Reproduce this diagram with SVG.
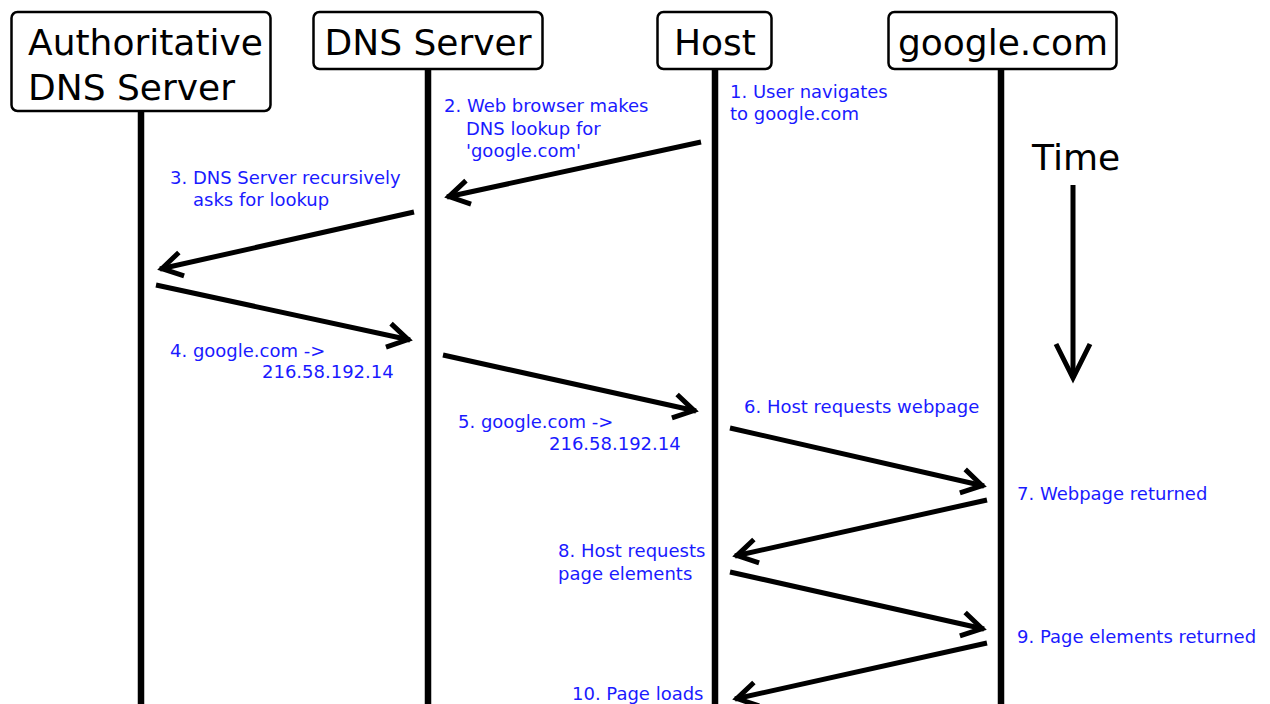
<svg xmlns="http://www.w3.org/2000/svg" width="1270" height="704" viewBox="0 0 1270 704">
<style>
.box{fill:#fff;stroke:#000;stroke-width:2.5}
.title{font-family:"DejaVu Sans",sans-serif;font-size:36px;fill:#000}
.lbl{font-family:"DejaVu Sans",sans-serif;font-size:18px;fill:#1a1aff}
.life{stroke:#000;stroke-width:6.5}
.msg{stroke:#000;stroke-width:5;fill:none;marker-end:url(#head)}
</style>
<defs>
<marker id="head" markerUnits="userSpaceOnUse" orient="auto" markerWidth="40" markerHeight="40" viewBox="-30 -20 40 40" refX="0" refY="0" overflow="visible">
<path d="M-22,-12 L-2,0 L-22,12" fill="none" stroke="#000" stroke-width="5"/>
</marker>
</defs>
<rect width="1270" height="704" fill="#fff"/>
<g id="lifelines">
<line class="life" x1="141" y1="111" x2="141" y2="704"/>
<line class="life" x1="428" y1="69" x2="428" y2="704"/>
<line class="life" x1="715" y1="69" x2="715" y2="704"/>
<line class="life" x1="1001" y1="69" x2="1001" y2="704"/>
</g>
<g id="node-auth">
<rect class="box" x="11.5" y="12" width="259" height="99" rx="6"/>
<text class="title" x="28" y="55">Authoritative</text>
<text class="title" x="28" y="100">DNS Server</text>
</g>
<g id="node-dns">
<rect class="box" x="313.5" y="12" width="229" height="57" rx="6"/>
<text class="title" x="428" y="55" text-anchor="middle">DNS Server</text>
</g>
<g id="node-host">
<rect class="box" x="657.5" y="12" width="114" height="57" rx="6"/>
<text class="title" x="715" y="55" text-anchor="middle">Host</text>
</g>
<g id="node-google">
<rect class="box" x="888.5" y="12" width="228" height="57" rx="6"/>
<text class="title" x="1003" y="55" text-anchor="middle">google.com</text>
</g>
<g id="time">
<text class="title" x="1032" y="170">Time</text>
<line x1="1073" y1="185" x2="1073" y2="378" stroke="#000" stroke-width="5"/>
<path d="M1056,344 L1073,378 L1090,344" fill="none" stroke="#000" stroke-width="5"/>
</g>
<g id="connectors">
<line class="msg" x1="701" y1="142" x2="447" y2="197"/>
<line class="msg" x1="414" y1="212" x2="160" y2="269"/>
<line class="msg" x1="156" y1="285" x2="410" y2="340"/>
<line class="msg" x1="443" y1="355" x2="696" y2="411"/>
<line class="msg" x1="730" y1="428" x2="984" y2="486"/>
<line class="msg" x1="987" y1="500" x2="735" y2="556"/>
<line class="msg" x1="730" y1="572" x2="984" y2="629"/>
<line class="msg" x1="987" y1="643" x2="735" y2="699"/>
</g>
<g id="labels">
<text class="lbl" x="730" y="98">1. User navigates</text>
<text class="lbl" x="730" y="120">to google.com</text>
<text class="lbl" x="444" y="112">2. Web browser makes</text>
<text class="lbl" x="466" y="135">DNS lookup for</text>
<text class="lbl" x="466" y="157">'google.com'</text>
<text class="lbl" x="170" y="184">3. DNS Server recursively</text>
<text class="lbl" x="193" y="206">asks for lookup</text>
<text class="lbl" x="170" y="357">4. google.com -&gt;</text>
<text class="lbl" x="262" y="378">216.58.192.14</text>
<text class="lbl" x="458" y="428">5. google.com -&gt;</text>
<text class="lbl" x="549" y="450">216.58.192.14</text>
<text class="lbl" x="744" y="413">6. Host requests webpage</text>
<text class="lbl" x="1017" y="500">7. Webpage returned</text>
<text class="lbl" x="558" y="557">8. Host requests</text>
<text class="lbl" x="558" y="580">page elements</text>
<text class="lbl" x="1017" y="643">9. Page elements returned</text>
<text class="lbl" x="572" y="700">10. Page loads</text>
</g>
</svg>
